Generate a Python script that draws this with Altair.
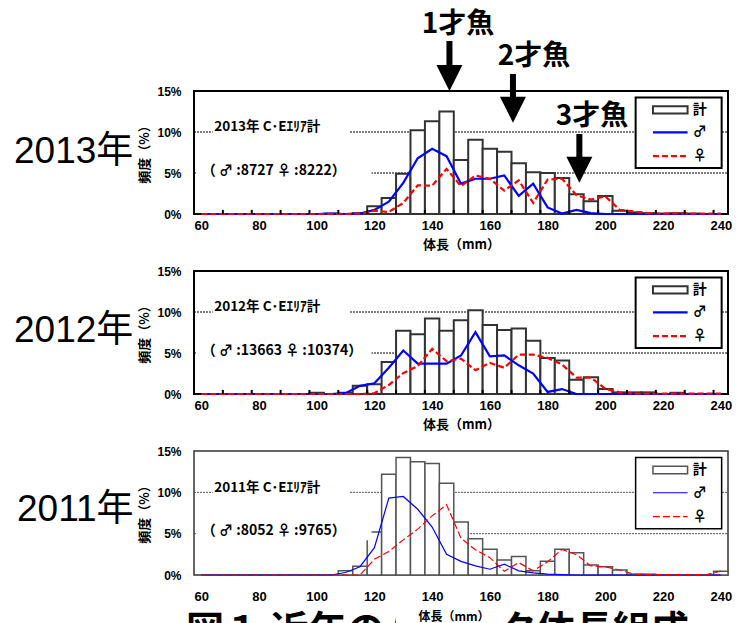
import altair as alt
import pandas as pd

# ---------------- data ----------------
LENGTHS = [60, 65, 70, 75, 80, 85, 90, 95, 100, 105, 110, 115, 120, 125, 130, 135,
           140, 145, 150, 155, 160, 165, 170, 175, 180, 185, 190, 195, 200, 205,
           210, 215, 220, 225, 230, 235, 240]

TOTAL_2013 = [0, 0, 0, 0, 0, 0, 0, 0, 0, 0.05, 0, 0.1,
              0.95, 1.95, 4.9, 10.2, 11.3, 12.5, 6.6, 9.05, 7.95, 7.6, 6.2, 5.1, 5.0,
              4.4, 2.4, 1.55, 2.2, 0.4, 0.2, 0.1, 0.05, 0.1, 0.05, 0, 0]
MALE_2013 = [0, 0, 0, 0, 0, 0, 0, 0, 0, 0.05, 0, 0.05,
             0.5, 1.5, 3.8, 6.8, 7.95, 7.05, 3.7, 4.3, 4.3, 4.7, 2.2, 3.7, 0.8,
             0.05, 0.5, 0.1, 0, 0, 0, 0, 0, 0, 0, 0, 0]
FEMALE_2013 = [0, 0, 0, 0, 0, 0, 0, 0, 0, 0, 0, 0.05,
               0.4, 0.25, 1.35, 3.5, 3.45, 5.5, 3.4, 4.7, 4.3, 2.85, 4.1, 1.35, 4.2,
               4.3, 2.3, 1.75, 2.15, 0.5, 0.3, 0.1, 0.05, 0.1, 0.05, 0.05, 0.05]

TOTAL_2012 = [0, 0, 0, 0, 0, 0, 0, 0, 0.15, 0, 0.15, 1.0,
              1.2, 3.9, 7.7, 7.3, 9.2, 7.7, 9.0, 10.2, 8.4, 7.8, 8.0, 6.5, 4.4,
              4.1, 1.75, 2.05, 0.6, 0.2, 0.2, 0.2, 0, 0.15, 0, 0, 0]
MALE_2012 = [0, 0, 0, 0, 0, 0, 0, 0, 0, 0, 0.1, 1.0,
             1.3, 3.2, 5.3, 3.7, 3.7, 3.7, 4.7, 7.55, 4.6, 4.7, 3.5, 2.5, 0.25,
             0.6, 0, 0, 0, 0, 0, 0, 0, 0, 0, 0, 0]
FEMALE_2012 = [0, 0, 0, 0, 0, 0, 0, 0, 0, 0, 0, 0,
               0.1, 1.1, 2.55, 3.4, 5.5, 4.0, 4.3, 2.9, 3.8, 3.2, 4.8, 4.8, 4.4,
               3.6, 2.0, 2.0, 0.65, 0.2, 0.05, 0.05, 0.05, 0.05, 0.05, 0.05, 0.05]

TOTAL_2011 = [0, 0, 0, 0, 0, 0, 0, 0, 0, 0, 0.5, 1.05,
              5.2, 12.2, 14.2, 13.7, 13.5, 11.1, 6.4, 4.4, 3.1, 1.8, 2.25, 0.5, 1.65,
              3.1, 2.7, 1.2, 1.0, 0.6, 0.1, 0.1, 0, 0, 0, 0, 0.45]
MALE_2011 = [0, 0, 0, 0, 0, 0, 0, 0, 0, 0, 0.3, 1.0,
             3.3, 9.3, 9.5, 7.95, 5.8, 2.5, 1.65, 1.1, 0.7, 1.3, 0.5, 0.25, 0.1,
             0.05, 0, 0, 0, 0, 0, 0, 0, 0, 0, 0, 0]
FEMALE_2011 = [0, 0, 0, 0, 0, 0, 0, 0, 0, 0, 0, 0,
               1.9, 2.85, 4.25, 5.55, 7.15, 8.5, 4.45, 3.05, 2.1, 0.45, 1.5, 0.5, 1.6,
               3.1, 2.45, 1.1, 1.0, 0.6, 0.1, 0.05, 0.05, 0.05, 0.05, 0.05, 0.45]

COUNTS = {"2013": (8727, 8222), "2012": (13663, 10374), "2011": (8052, 9765)}

X_LABELS = [60, 80, 100, 120, 140, 160, 180, 200, 220, 240]
Y_TICKS = [0, 5, 10, 15]
TICK_POS = [67.5, 77.5, 87.5, 97.5, 107.5, 117.5, 127.5, 137.5, 147.5, 157.5,
            167.5, 177.5, 187.5, 197.5, 207.5, 217.5, 227.5, 237.5]

AGE_LABELS = ["1才魚", "2才魚", "3才魚"]
AGE_ARROW_X = [146, 168, 191]

# ---------------- styling ----------------
JP = "Noto Sans CJK JP"
NUM = "Liberation Sans"
W = 534
XS = alt.Scale(domain=[57.5, 242.5], nice=False, zero=False)
YS = alt.Scale(domain=[0, 15], nice=False)


def panel(year, total, male, female, height, thin=False, first=False, last=False):
    n_m, n_f = COUNTS[year]
    df = pd.DataFrame({"len": LENGTHS, "total": total, "male": male, "female": female})
    df["x0"] = df["len"] - 2.5
    df["x1"] = df["len"] + 2.5
    df["base"] = 0.0

    line_w = 1.2 if thin else 2.2
    bar_stroke = "#555555" if thin else "#333333"
    bar_w = 1.5 if thin else 2
    grid_col = "#555555" if thin else "#000000"
    frame_col = "#333333" if thin else "#000000"
    frame_w = 1.5 if thin else 2
    red_dash = [7, 3] if thin else [6, 3]

    xax_kw = dict(values=X_LABELS, ticks=False, tickSize=0, domain=False, grid=False,
                  labelFont=NUM, labelFontWeight="bold", labelFontSize=13,
                  labelColor="black", labelFlush=False, labelOverlap=False,
                  labelPadding=15 if last else 5)
    if last:
        xax = alt.Axis(title=None, **xax_kw)
    else:
        xax = alt.Axis(title="体長（mm）", titleFont=JP, titleFontWeight="bold",
                       titleFontSize=13, titleColor="black", titleY=30,
                       titleBaseline="middle", **xax_kw)
    yax = alt.Axis(values=Y_TICKS, labelExpr="datum.value + '%'", ticks=False, tickSize=0,
                   domain=False, grid=False, labelFont=NUM, labelFontWeight="bold",
                   labelFontSize=12, labelColor="black", labelPadding=13,
                   title="頻度（%）", titleFont=JP, titleFontWeight="bold", titleFontSize=13,
                   titleColor="black", titleAngle=270, titleX=-50, titleY=60,
                   titleAlign="center", titleBaseline="middle")

    def X(f):
        return alt.X(f, scale=XS, axis=xax)

    def Y(f):
        return alt.Y(f, scale=YS, axis=yax)

    def rect(x0, x1, y0, y1, **mk):
        d = pd.DataFrame({"a": [x0], "b": [x1], "c": [y0], "d": [y1]})
        return alt.Chart(d).mark_rect(**mk).encode(x=X("a:Q"), x2="b:Q", y=Y("c:Q"), y2="d:Q")

    def hrule(x0, x1, y, **mk):
        d = pd.DataFrame({"a": [x0], "b": [x1], "c": [y]})
        return alt.Chart(d).mark_rule(**mk).encode(x=X("a:Q"), x2="b:Q", y=Y("c:Q"))

    def text(x, y, s, **mk):
        d = pd.DataFrame({"x": [x], "y": [y], "s": [s]})
        return alt.Chart(d).mark_text(**mk).encode(x=X("x:Q"), y=Y("y:Q"), text="s:N")

    def pxtext(x, y, s, **mk):
        d = pd.DataFrame({"s": [s]})
        return alt.Chart(d).mark_text(**mk).encode(x=alt.value(x), y=alt.value(y), text="s:N")

    layers = []
    if first:
        # invisible anchor that fixes the plot origin inside the page
        layers.append(alt.Chart(pd.DataFrame({"a": [0]})).mark_rect(opacity=0).encode(
            x=alt.value(-193), x2=alt.value(0), y=alt.value(-90), y2=alt.value(0)))

    # gridlines at 5% and 10%
    gdf = pd.DataFrame({"g": [5, 10], "a": [57.5, 57.5], "b": [242.5, 242.5]})
    layers.append(alt.Chart(gdf).mark_rule(color=grid_col, strokeWidth=1, strokeDash=[2, 1]).encode(
        x=X("a:Q"), x2="b:Q", y=Y("g:Q")))

    # bars (total)
    layers.append(alt.Chart(df).transform_filter("datum.total > 0").mark_rect(
        fill="white", stroke=bar_stroke, strokeWidth=bar_w).encode(
        x=X("x0:Q"), x2="x1:Q", y=Y("total:Q"), y2="base:Q"))

    # male / female lines
    layers.append(alt.Chart(df).mark_line(color="#0000ff", strokeWidth=line_w).encode(
        x=X("len:Q"), y=Y("male:Q")))
    layers.append(alt.Chart(df).mark_line(color="#ff0000", strokeWidth=line_w,
                                          strokeDash=red_dash).encode(
        x=X("len:Q"), y=Y("female:Q")))

    # small inward ticks on the x axis
    if not thin:
        tdf = pd.DataFrame({"t": TICK_POS, "y0": [0] * len(TICK_POS), "y1": [0.5] * len(TICK_POS)})
        layers.append(alt.Chart(tdf).mark_rule(color="black", strokeWidth=2).encode(
            x=X("t:Q"), y=Y("y0:Q"), y2="y1:Q"))

    # annotation boxes on the gridlines
    layers.append(rect(64, 111.5, 9.3, 11.8, fill="white"))
    layers.append(rect(58.3, 119, 4.2, 6.4, fill="white"))
    layers.append(text(64.5, 10.55, f"{year}年 C･Eｴﾘｱ計", font=JP, fontWeight="bold",
                       fontSize=13.5, align="left", baseline="middle", color="black"))
    layers.append(text(60.2, 5.3, f"（ ♂ :{n_m}  ♀ :{n_f}）", font=JP, fontWeight="bold",
                       fontSize=14, align="left", baseline="middle", color="black"))

    # legend
    layers.append(rect(210.5, 240.3, 5.6, 14.2, fill="white", stroke="black",
                       strokeWidth=1.5 if thin else 2))
    layers.append(rect(216.5, 228.5, 12.25, 13.15, fill="white", stroke=bar_stroke,
                       strokeWidth=bar_w))
    layers.append(hrule(216.5, 228.5, 9.95, color="#0000ff", strokeWidth=line_w))
    layers.append(hrule(216.5, 228.5, 7.05, color="#ff0000", strokeWidth=line_w,
                        strokeDash=red_dash))
    for yy, s in [(12.7, "計"), (9.95, "♂"), (7.05, "♀")]:
        layers.append(text(230.3, yy, s, font=JP, fontWeight="bold", fontSize=14,
                           align="left", baseline="middle", color="black"))

    # big year label on the left
    layers.append(pxtext(-180 if not last else -177, 72 if first else 71 if not last else 70,
                         f"{year}年", font=f"{NUM}, {JP}", fontSize=37, align="left",
                         baseline="alphabetic", color="black"))

    if first:
        # age-class arrows
        adf = pd.DataFrame({"x": AGE_ARROW_X, "top": [21.1, 17.07, 9.76],
                            "bot": [18.0, 14.0, 6.7], "head": [16.59, 12.72, 5.4]})
        layers.append(alt.Chart(adf).mark_rule(color="black", strokeWidth=6).encode(
            x=X("x:Q"), y=Y("top:Q"), y2="bot:Q"))
        layers.append(alt.Chart(adf).mark_point(shape="M-1,-1L1,-1L0,1Z", filled=True,
                                                color="black", opacity=1, size=676,
                                                strokeWidth=0).encode(
            x=X("x:Q"), y=Y("head:Q")))
        ldf = pd.DataFrame({"s": AGE_LABELS, "x": [149, 175.3, 195.4],
                            "y": [23.05, 19.15, 11.8]})
        layers.append(alt.Chart(ldf).mark_text(font=JP, fontWeight="bold", fontSize=28,
                                               align="center", baseline="middle",
                                               color="black").encode(
            x=X("x:Q"), y=Y("y:Q"), text="s:N"))

    if last:
        # document caption (partly cut by the page bottom) and the x title on top of it
        layers.append(pxtext(-8, 192, "図１  近年のハタハタ体長組成", font=JP,
                             fontWeight="bold", fontSize=38, align="left",
                             baseline="alphabetic", color="black"))
        layers.append(alt.Chart(pd.DataFrame({"a": [0]})).mark_rect(fill="white").encode(
            x=alt.value(202), x2=alt.value(307), y=alt.value(153), y2=alt.value(182)))
        layers.append(pxtext(260, 166, "体長（mm）", font=JP, fontWeight="bold",
                             fontSize=12, align="center", baseline="middle", color="black"))

    return alt.layer(*layers).properties(
        width=W, height=height,
        view=alt.ViewBackground(stroke=frame_col, strokeWidth=frame_w, fill="white"))


p1 = panel("2013", TOTAL_2013, MALE_2013, FEMALE_2013, 123, first=True)
p2 = panel("2012", TOTAL_2012, MALE_2012, FEMALE_2012, 123)
p3 = panel("2011", TOTAL_2011, MALE_2011, FEMALE_2011, 124, thin=True, last=True)

chart = alt.vconcat(p1, p2, p3, spacing=57, bounds="flush").properties(
    padding=0, background="white")

chart.save("out.html", embed_options={"renderer": "svg", "actions": False})
